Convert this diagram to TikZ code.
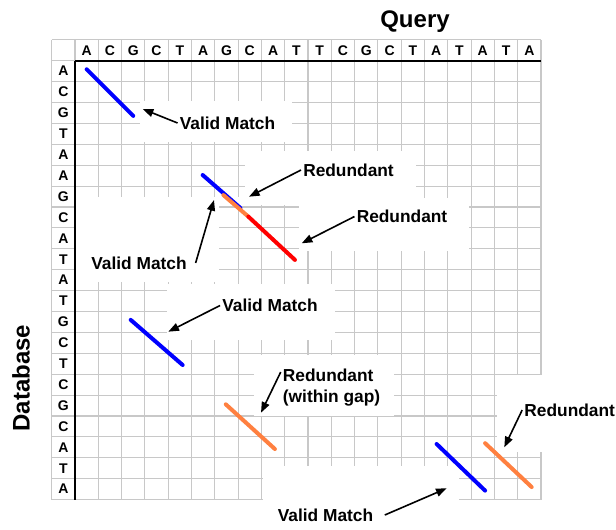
\documentclass[tikz,border=0pt]{standalone}
\usepackage{fontspec}
\setmainfont{Liberation Sans}
\usetikzlibrary{arrows.meta}

\definecolor{gridgray}{RGB}{200,200,200}
\definecolor{hitblue}{RGB}{0,0,255}
\definecolor{hitorange}{RGB}{255,128,64}
\definecolor{hitred}{RGB}{255,0,0}

\tikzset{
  gridline/.style={gridgray, line width=0.8pt},
  seqletter/.style={font=\fontsize{10.5}{12}\selectfont\bfseries, inner sep=0pt},
  hit/.style={line width=3pt, line cap=round},
  lbl/.style={font=\fontsize{13}{15.75}\selectfont\bfseries, inner sep=1.5pt},
  callout/.style={-{Triangle[length=8pt,width=6pt]}, line width=1.2pt},
  axislbl/.style={font=\fontsize{18}{20}\selectfont\bfseries}
}

\begin{document}
\begin{tikzpicture}[x=0.75pt, y=-0.75pt]
    \useasboundingbox (0,0) rectangle (616,529);

    % Axis titles
    \node[axislbl] (query) at (415,22) {Query};
    \node[axislbl, rotate=90] (database) at (21,378) {Database};

    \begin{scope}[shift={(75,60.7)}, x=17.475pt, y=-15.675pt]
        % Grid
        \foreach \c in {-1,...,20}
            \draw[gridline] (\c,-1) -- (\c,21);
        \foreach \r in {-1,...,21}
            \draw[gridline] (-1,\r) -- (20,\r);

        % Sequences
        \foreach \b [count=\i from 0] in {A,C,G,C,T,A,G,C,A,T,T,C,G,C,T,A,T,A,T,A}
            \node[seqletter] (q\i) at (\i+0.5,-0.5) {\b};
        \foreach \b [count=\i from 0] in {A,C,G,T,A,A,G,C,A,T,A,T,G,C,T,C,G,C,A,T,A}
            \node[seqletter] (d\i) at (-0.5,\i+0.5) {\b};

        % White boxes under the labels
        \fill[white] (2.8,1.95) rectangle (9.3,3.87);
        \fill[white] (7.3,4.3) rectangle (14.65,6.9);
        \fill[white] (6.2,6.5) rectangle (7.3,6.9);
        \fill[white] (9.6,6.55) rectangle (16.9,9.1);
        \fill[white] (0,6.5) rectangle (6.2,10.6);
        \fill[white] (3.93,10.7) rectangle (11.16,13.35);
        \fill[white] (7.7,14.1) rectangle (13.7,17.0);
        \fill[white] (8.08,19.4) rectangle (16.5,21.5);
        \fill[white] (18.1,15.05) rectangle (21.5,18.7);

        % Axes
        \draw[line width=1.2pt] (0,0) -- (20,0);
        \draw[line width=1.2pt] (0,0) -- (0,21);

        % Hits
        \draw[hit, hitblue] (0.5,0.41) -- (2.5,2.64);
        \draw[hit, hitblue] (5.48,5.47) -- (7.1,7.05);
        \draw[hit, hitorange] (6.37,6.43) -- (7.44,7.46);
        \draw[hit, hitred] (7.44,7.46) -- (9.44,9.53);
        \draw[hit, hitblue] (2.39,12.4) -- (4.62,14.56);
        \draw[hit, hitorange] (6.47,16.44) -- (8.58,18.58);
        \draw[hit, hitblue] (15.52,18.34) -- (17.6,20.57);
        \draw[hit, hitorange] (17.6,18.3) -- (19.6,20.4);
    \end{scope}

    % Labels
    \node[lbl] (vmA) at (227.5,123) {Valid Match};
    \node[lbl] (rdA) at (348.5,170) {Redundant};
    \node[lbl] (rdB) at (402,216.5) {Redundant};
    \node[lbl] (vmB) at (139,263) {Valid Match};
    \node[lbl] (vmC) at (270,305.5) {Valid Match};
    \node[lbl, anchor=west, align=left] (rdC) at (280.7,387.6) {Redundant\\(within gap)};
    \node[lbl] (rdD) at (569.7,410) {Redundant};
    \node[lbl] (vmD) at (325.5,515) {Valid Match};

    % Arrows
    \coordinate (hA) at (142.7,109);
    \coordinate (hB) at (249,196.7);
    \coordinate (hC) at (301.7,243.3);
    \coordinate (hD) at (214,200);
    \coordinate (hE) at (168.3,331.7);
    \coordinate (hF) at (261,412.7);
    \coordinate (hG) at (504.3,447.3);
    \coordinate (hH) at (446.7,488.3);
    \draw[callout] (vmA.west) -- (hA);
    \draw[callout] (rdA.west) -- (hB);
    \draw[callout] (rdB.west) -- (hC);
    \draw[callout] ([xshift=5pt]vmB.east) -- (hD);
    \draw[callout] (vmC.west) -- (hE);
    \draw[callout] (rdC.163) -- (hF);
    \draw[callout] (rdD.west) -- (hG);
    \draw[callout] ([xshift=7pt]vmD.east) -- (hH);
\end{tikzpicture}
\end{document}
